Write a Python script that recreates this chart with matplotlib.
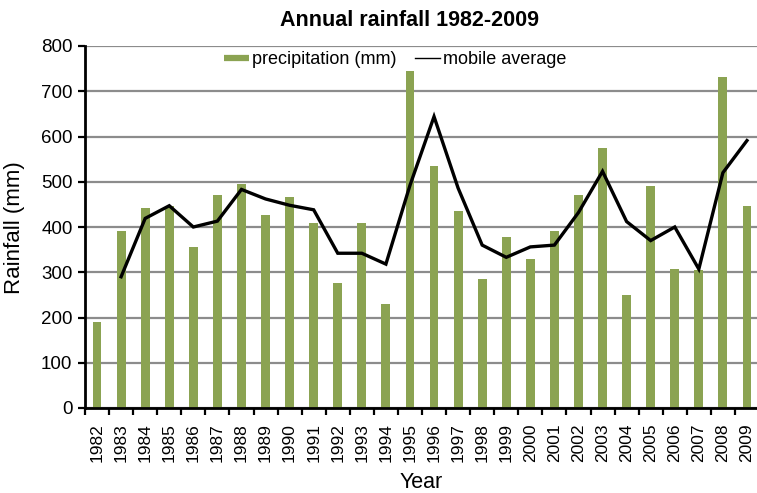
import matplotlib
matplotlib.use("Agg")
import matplotlib.pyplot as plt
import numpy as np
from matplotlib.lines import Line2D

plt.rcParams['font.family'] = ['Liberation Sans', 'DejaVu Sans']

years = [str(y) for y in range(1982, 2010)]
precipitation = [190, 391, 443, 447, 356, 471, 495, 427, 467, 408, 276, 408, 229, 752,
                 535, 435, 285, 379, 329, 391, 471, 574, 249, 491, 308, 305, 732, 447]
# two-year mobile average, starting with 1983
avg_years = years[1:]
mobile_average = [290, 419, 447, 400, 413, 483, 462, 448, 438, 342, 342, 318, 492,
                  644, 486, 360, 333, 356, 360, 432, 523, 412, 370, 400, 307, 520, 591]

bar_color = '#8ba352'

fig = plt.figure(figsize=(7.57, 4.93), dpi=100)
ax = fig.add_axes([85 / 757, 1 - 408 / 493, (759 - 85) / 757, (408 - 46) / 493])

x = np.arange(len(years))
ax.bar(x, precipitation, width=0.37, color=bar_color, zorder=2,
       label='precipitation (mm)')
xa = np.arange(1, len(years))
ax.plot(xa, mobile_average, color='black', lw=2.4, zorder=3, label='mobile average',
        solid_joinstyle='miter')

ax.set_xlim(-0.5, len(years) - 0.5)
ax.set_ylim(0, 800)
ax.set_yticks(np.arange(0, 801, 100))
ax.yaxis.grid(True, color='#8c8c8c', lw=1.6, zorder=0)
ax.set_axisbelow(True)

ax.set_xticks(x)
ax.set_xticklabels(years, rotation=90, fontsize=12.5)
ax.set_xticks(np.arange(-0.5, len(years), 1), minor=True)
ax.tick_params(axis='x', which='major', length=0, pad=11)
ax.tick_params(axis='x', which='minor', length=5, width=1.6, direction='out')
ax.tick_params(axis='y', length=5, width=1.6, direction='out', labelsize=13.5, pad=4)

for side in ('top', 'right'):
    ax.spines[side].set_visible(False)
for side in ('left', 'bottom'):
    ax.spines[side].set_linewidth(2)

ax.set_xlabel('Year', fontsize=15.5)
ax.xaxis.set_label_coords((421 - 85) / 674, -(483 - 408) / 362)
ax.xaxis.label.set_va('center')
ax.set_ylabel('Rainfall (mm)', fontsize=16)
ax.yaxis.set_label_coords(-(85 - 15) / 674, (408 - 228) / 362)
ax.yaxis.label.set_va('center')

fig.text(410 / 757, 1 - 20 / 493, 'Annual rainfall 1982-2009', ha='center', va='center',
         fontsize=15.5, fontweight='bold')

handles = [Line2D([0], [0], color=bar_color, lw=4.5, solid_capstyle='butt'),
           Line2D([0], [0], color='black', lw=1.0)]
leg = ax.legend(handles, ['precipitation (mm)', 'mobile average'], ncol=2,
                loc='center', bbox_to_anchor=((395 - 85) / 674, (408 - 60) / 362),
                frameon=True, fancybox=False, edgecolor='none', facecolor='white',
                framealpha=1, fontsize=13, handlelength=1.4, handletextpad=0.15,
                columnspacing=1.05, borderpad=0.15)
leg.set_zorder(5)

fig.savefig('out.png', dpi=100)
